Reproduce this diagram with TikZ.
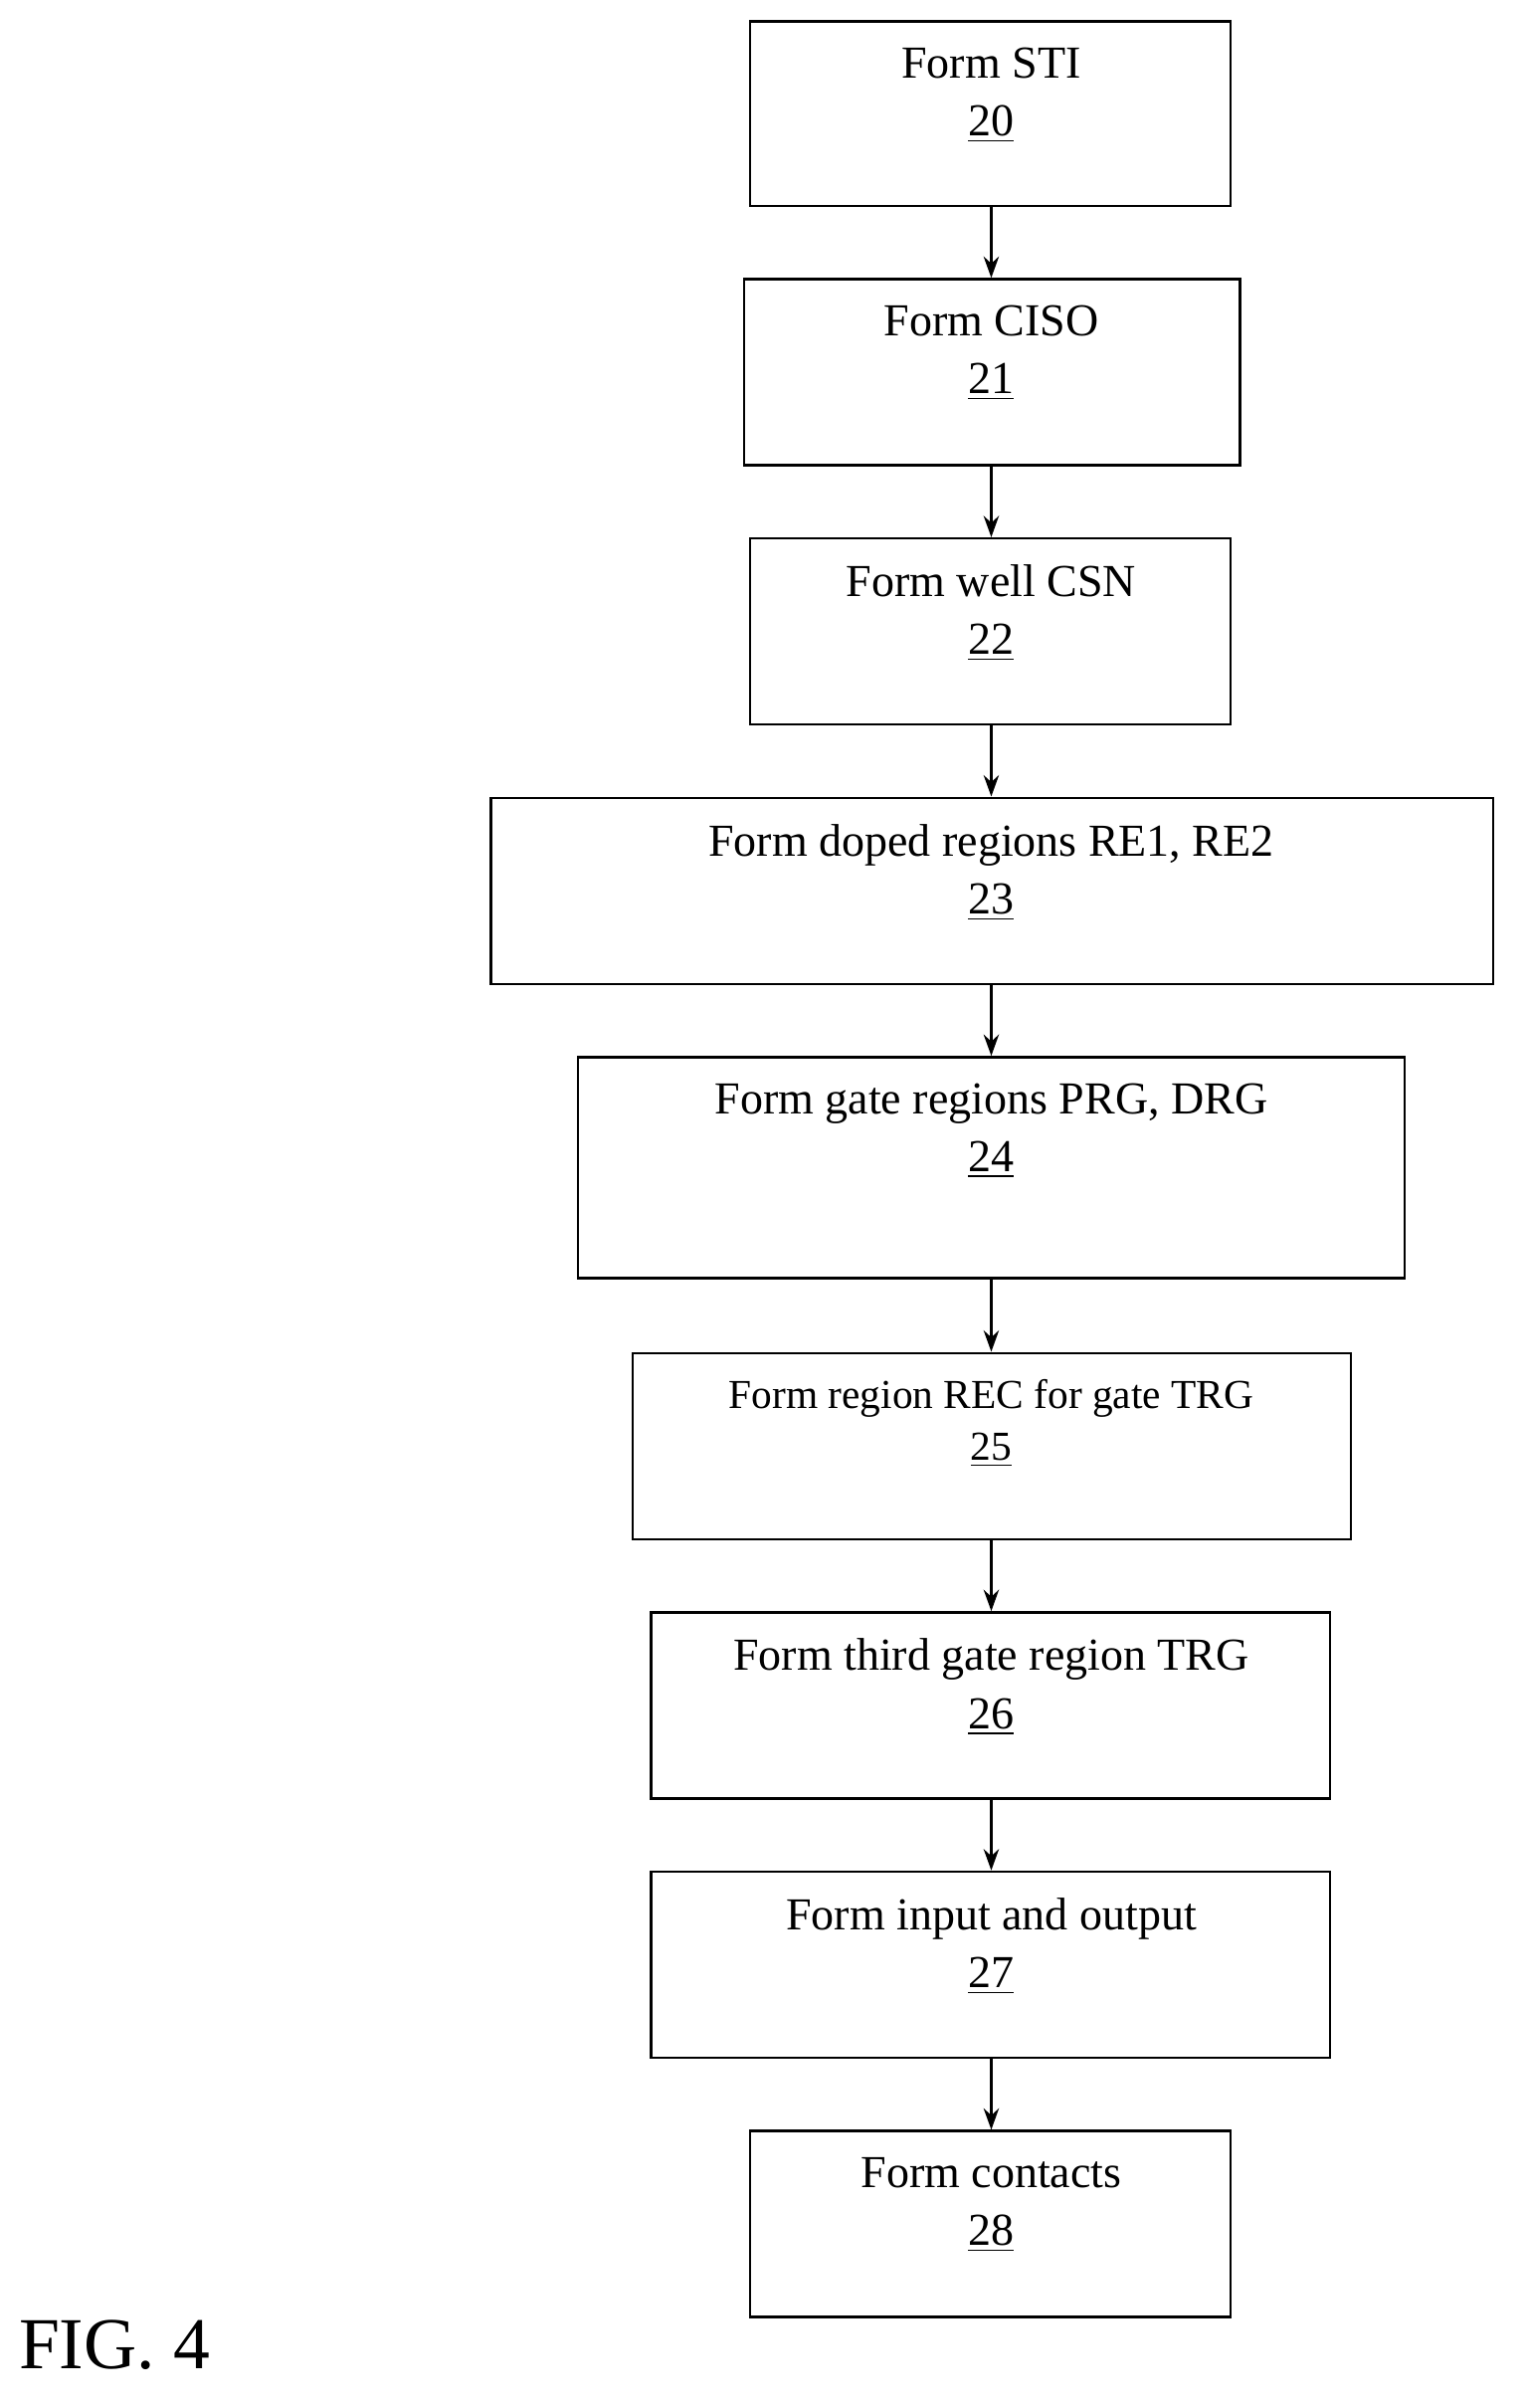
\documentclass[tikz,border=0pt]{standalone}
\usepackage{fontspec}
\setmainfont{Liberation Serif}
\usetikzlibrary{arrows.meta}
\begin{document}
\begin{tikzpicture}[x=0.5pt,y=-0.5pt,
 box/.style={draw,line width=0.8pt,inner sep=0pt},
 txt/.style={font=\fontsize{15}{19}\selectfont,align=center,anchor=north,inner sep=0pt},
 arr/.style={-{Stealth[length=7pt,width=5pt]},line width=1pt}]
\useasboundingbox (0,0) rectangle (1000,1578.6);
\newcommand{\bx}[8]{%
 \node[box,minimum width={(#3-#2)*0.5pt},minimum height={(#5-#4)*0.5pt}] (#1) at ({(#2+#3)/2},{(#4+#5)/2}) {};
 \node[txt,#8] (#1t) at (650,#6) {#7};}
\bx{b1}{492}{807}{14}{135}{31}{Form STI\\\underline{20}}{}
\bx{b2}{488}{813}{183}{305}{200}{Form CISO\\\underline{21}}{}
\bx{b3}{492}{807}{353}{475}{370}{Form well CSN\\\underline{22}}{}
\bx{b4}{322}{979}{523}{645}{540}{Form doped regions RE1, RE2\\\underline{23}}{}
\bx{b5}{379}{921}{693}{838}{710}{Form gate regions PRG, DRG\\\underline{24}}{}
\bx{b6}{415}{886}{887}{1009}{904}{Form region REC for gate TRG\\\underline{25}}{font=\fontsize{13.5}{17}\selectfont}
\bx{b7}{427}{872}{1057}{1179}{1074}{Form third gate region TRG\\\underline{26}}{}
\bx{b8}{427}{872}{1227}{1349}{1244}{Form input and output\\\underline{27}}{}
\bx{b9}{492}{807}{1397}{1519}{1414}{Form contacts\\\underline{28}}{}
\foreach \a/\b in {b1/b2,b2/b3,b3/b4,b4/b5,b5/b6,b6/b7,b7/b8,b8/b9}
 \draw[arr] (\a.south-|650,0) -- (\b.north-|650,0);
\node[font=\fontsize{24}{28}\selectfont,anchor=west,inner sep=0pt] (fig) at (12,1537) {FIG. 4};
\end{tikzpicture}
\end{document}
